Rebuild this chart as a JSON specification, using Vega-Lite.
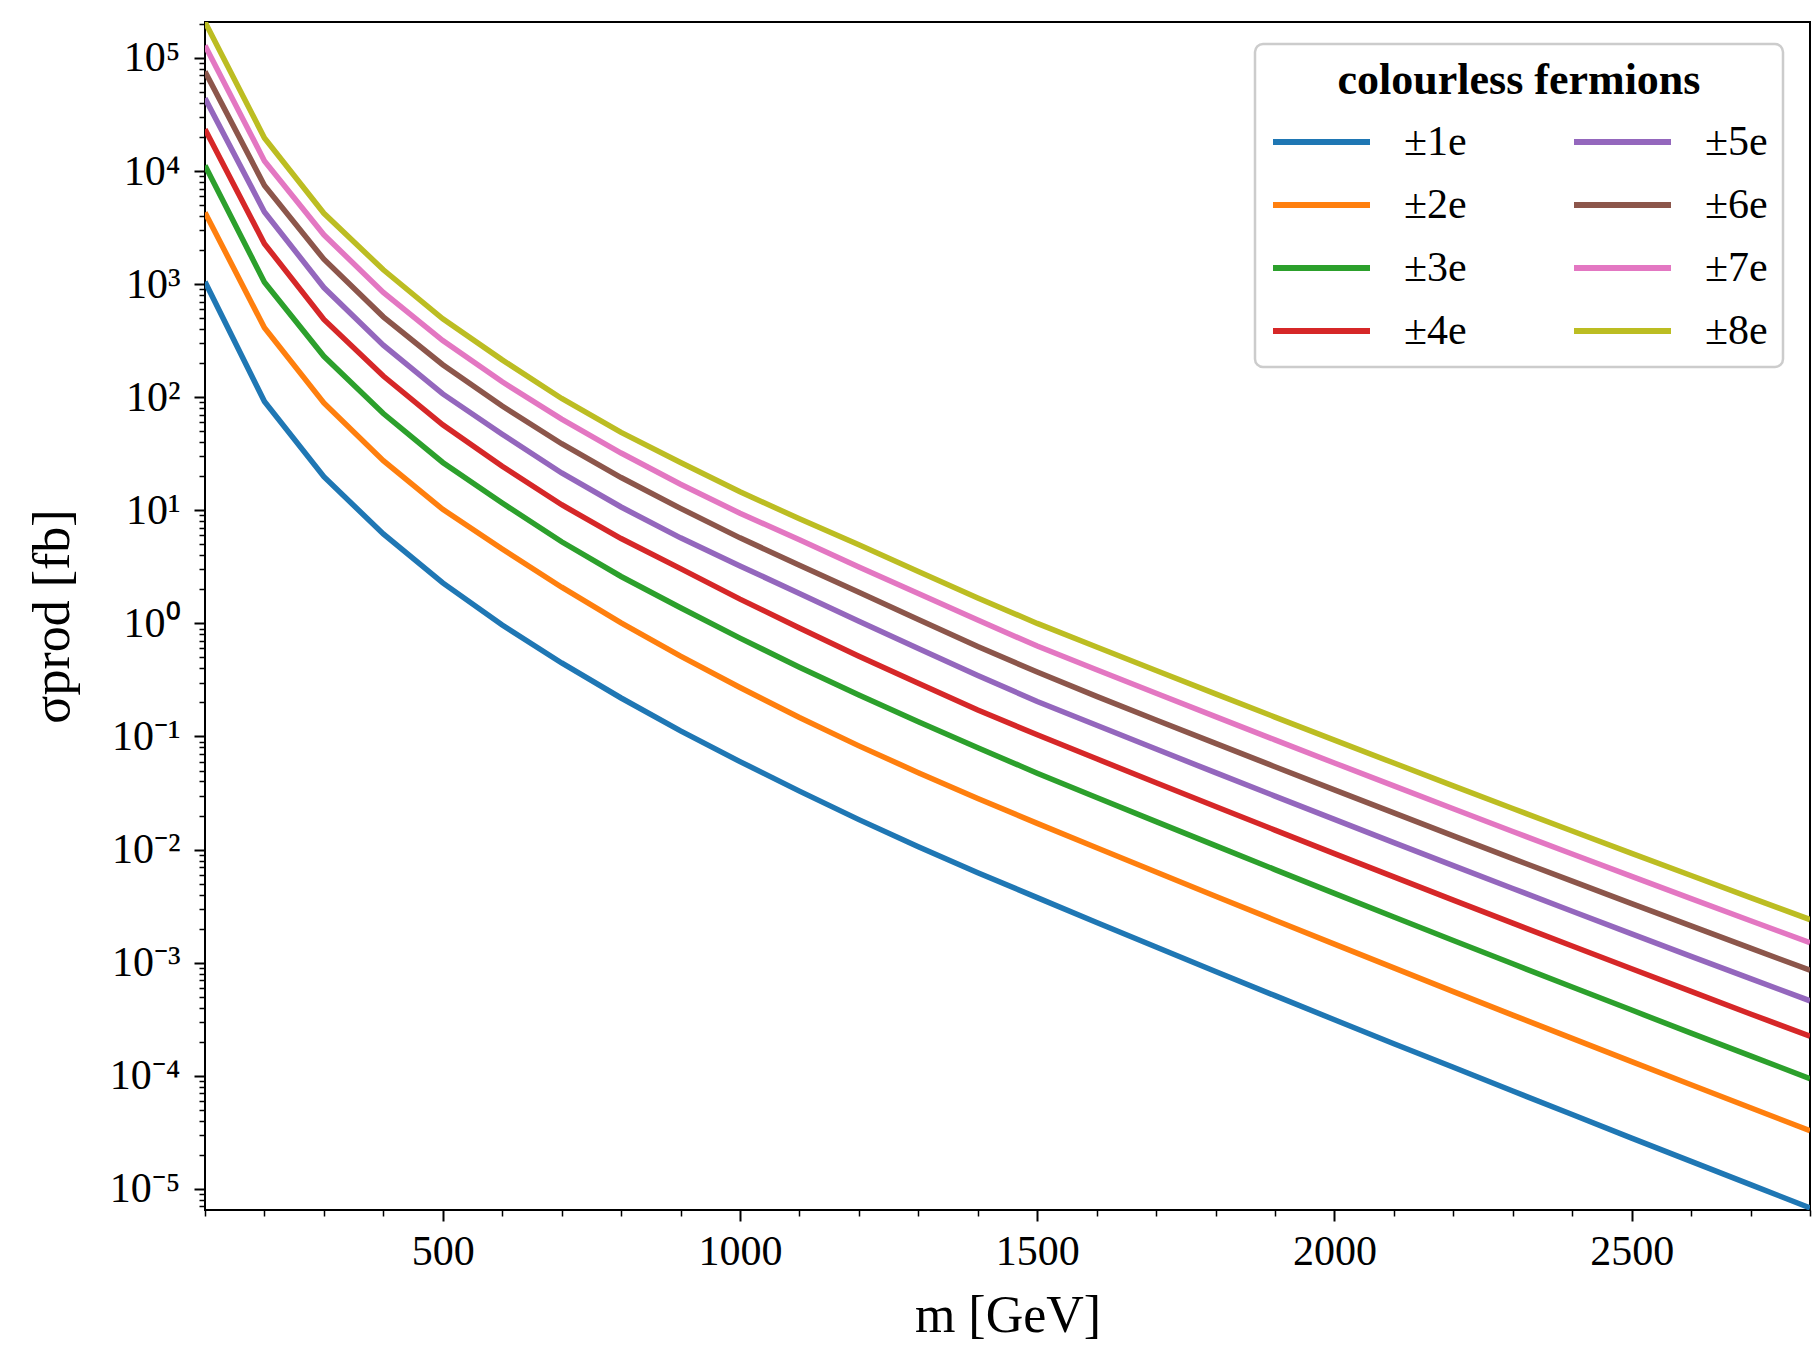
{
  "$schema": "https://vega.github.io/schema/vega-lite/v6.json",
  "width": 1605,
  "height": 1188,
  "autosize": {"type": "none"},
  "padding": {"left": 205, "top": 22, "right": 9, "bottom": 136},
  "background": "white",
  "config": {
    "view": {"stroke": "black", "strokeWidth": 2},
    "font": "Liberation Serif",
    "axis": {
      "domain": false, "grid": false, "tickColor": "black",
      "labelColor": "black", "titleColor": "black",
      "labelFont": "Liberation Serif", "titleFont": "Liberation Serif",
      "labelFontSize": 42, "titleFontSize": 52, "titleFontWeight": "normal"
    },
    "legend": {"strokeWidth": 2.5}
  },
  "data": {"values": [
    {"q":"±1e","m":100,"s":1050},{"q":"±1e","m":200,"s":91.6},{"q":"±1e","m":300,"s":19.8},{"q":"±1e","m":400,"s":6.18},{"q":"±1e","m":500,"s":2.28},{"q":"±1e","m":600,"s":0.968},{"q":"±1e","m":700,"s":0.447},{"q":"±1e","m":800,"s":0.219},{"q":"±1e","m":900,"s":0.112},{"q":"±1e","m":1000,"s":0.060},{"q":"±1e","m":1100,"s":0.0329},{"q":"±1e","m":1200,"s":0.0184},{"q":"±1e","m":1300,"s":0.0106},{"q":"±1e","m":1400,"s":0.00624},{"q":"±1e","m":1500,"s":0.00376},{"q":"±1e","m":1600,"s":0.002265},{"q":"±1e","m":1700,"s":0.001374},{"q":"±1e","m":1800,"s":0.000836},{"q":"±1e","m":1900,"s":0.000511},{"q":"±1e","m":2000,"s":0.000313},{"q":"±1e","m":2100,"s":0.000192},{"q":"±1e","m":2200,"s":0.000119},{"q":"±1e","m":2300,"s":7.33e-5},{"q":"±1e","m":2400,"s":4.54e-5},{"q":"±1e","m":2500,"s":2.81e-5},{"q":"±1e","m":2600,"s":1.75e-5},{"q":"±1e","m":2700,"s":1.09e-5},{"q":"±1e","m":2800,"s":6.79e-6},
    {"q":"±2e","m":100,"s":4300},{"q":"±2e","m":200,"s":411},{"q":"±2e","m":300,"s":88.9},{"q":"±2e","m":400,"s":27.5},{"q":"±2e","m":500,"s":10.2},{"q":"±2e","m":600,"s":4.55},{"q":"±2e","m":700,"s":2.09},{"q":"±2e","m":800,"s":1.01},{"q":"±2e","m":900,"s":0.513},{"q":"±2e","m":1000,"s":0.271},{"q":"±2e","m":1100,"s":0.147},{"q":"±2e","m":1200,"s":0.0826},{"q":"±2e","m":1300,"s":0.0479},{"q":"±2e","m":1400,"s":0.0283},{"q":"±2e","m":1500,"s":0.01706},{"q":"±2e","m":1600,"s":0.01038},{"q":"±2e","m":1700,"s":0.00633},{"q":"±2e","m":1800,"s":0.003868},{"q":"±2e","m":1900,"s":0.002371},{"q":"±2e","m":2000,"s":0.001458},{"q":"±2e","m":2100,"s":0.000899},{"q":"±2e","m":2200,"s":0.000555},{"q":"±2e","m":2300,"s":0.000344},{"q":"±2e","m":2400,"s":0.000214},{"q":"±2e","m":2500,"s":0.0001332},{"q":"±2e","m":2600,"s":8.32e-5},{"q":"±2e","m":2700,"s":5.21e-5},{"q":"±2e","m":2800,"s":3.27e-5},
    {"q":"±3e","m":100,"s":11200},{"q":"±3e","m":200,"s":1040},{"q":"±3e","m":300,"s":230},{"q":"±3e","m":400,"s":71.8},{"q":"±3e","m":500,"s":26.5},{"q":"±3e","m":600,"s":11.6},{"q":"±3e","m":700,"s":5.27},{"q":"±3e","m":800,"s":2.60},{"q":"±3e","m":900,"s":1.374},{"q":"±3e","m":1000,"s":0.741},{"q":"±3e","m":1100,"s":0.410},{"q":"±3e","m":1200,"s":0.2328},{"q":"±3e","m":1300,"s":0.1349},{"q":"±3e","m":1400,"s":0.0794},{"q":"±3e","m":1500,"s":0.0474},{"q":"±3e","m":1600,"s":0.0289},{"q":"±3e","m":1700,"s":0.01767},{"q":"±3e","m":1800,"s":0.01083},{"q":"±3e","m":1900,"s":0.006655},{"q":"±3e","m":2000,"s":0.0041},{"q":"±3e","m":2100,"s":0.002535},{"q":"±3e","m":2200,"s":0.001571},{"q":"±3e","m":2300,"s":0.000977},{"q":"±3e","m":2400,"s":0.000609},{"q":"±3e","m":2500,"s":0.000381},{"q":"±3e","m":2600,"s":0.000238},{"q":"±3e","m":2700,"s":0.00015},{"q":"±3e","m":2800,"s":9.44e-5},
    {"q":"±4e","m":100,"s":23400},{"q":"±4e","m":200,"s":2280},{"q":"±4e","m":300,"s":488},{"q":"±4e","m":400,"s":154},{"q":"±4e","m":500,"s":57},{"q":"±4e","m":600,"s":24.5},{"q":"±4e","m":700,"s":11.2},{"q":"±4e","m":800,"s":5.63},{"q":"±4e","m":900,"s":3.05},{"q":"±4e","m":1000,"s":1.64},{"q":"±4e","m":1100,"s":0.912},{"q":"±4e","m":1200,"s":0.513},{"q":"±4e","m":1300,"s":0.295},{"q":"±4e","m":1400,"s":0.1718},{"q":"±4e","m":1500,"s":0.1035},{"q":"±4e","m":1600,"s":0.0635},{"q":"±4e","m":1700,"s":0.039},{"q":"±4e","m":1800,"s":0.02405},{"q":"±4e","m":1900,"s":0.01487},{"q":"±4e","m":2000,"s":0.00922},{"q":"±4e","m":2100,"s":0.005735},{"q":"±4e","m":2200,"s":0.003577},{"q":"±4e","m":2300,"s":0.002237},{"q":"±4e","m":2400,"s":0.001404},{"q":"±4e","m":2500,"s":0.000883},{"q":"±4e","m":2600,"s":0.000557},{"q":"±4e","m":2700,"s":0.000352},{"q":"±4e","m":2800,"s":0.000224},
    {"q":"±5e","m":100,"s":44000},{"q":"±5e","m":200,"s":4350},{"q":"±5e","m":300,"s":933},{"q":"±5e","m":400,"s":289},{"q":"±5e","m":500,"s":107},{"q":"±5e","m":600,"s":47.1},{"q":"±5e","m":700,"s":21.4},{"q":"±5e","m":800,"s":10.7},{"q":"±5e","m":900,"s":5.71},{"q":"±5e","m":1000,"s":3.22},{"q":"±5e","m":1100,"s":1.84},{"q":"±5e","m":1200,"s":1.047},{"q":"±5e","m":1300,"s":0.6},{"q":"±5e","m":1400,"s":0.346},{"q":"±5e","m":1500,"s":0.2042},{"q":"±5e","m":1600,"s":0.1256},{"q":"±5e","m":1700,"s":0.07745},{"q":"±5e","m":1800,"s":0.0479},{"q":"±5e","m":1900,"s":0.02972},{"q":"±5e","m":2000,"s":0.01849},{"q":"±5e","m":2100,"s":0.01153},{"q":"±5e","m":2200,"s":0.00722},{"q":"±5e","m":2300,"s":0.004529},{"q":"±5e","m":2400,"s":0.002849},{"q":"±5e","m":2500,"s":0.001799},{"q":"±5e","m":2600,"s":0.001138},{"q":"±5e","m":2700,"s":0.000723},{"q":"±5e","m":2800,"s":0.00046},
    {"q":"±6e","m":100,"s":76000},{"q":"±6e","m":200,"s":7450},{"q":"±6e","m":300,"s":1660},{"q":"±6e","m":400,"s":514},{"q":"±6e","m":500,"s":194},{"q":"±6e","m":600,"s":83.6},{"q":"±6e","m":700,"s":38.8},{"q":"±6e","m":800,"s":19.5},{"q":"±6e","m":900,"s":10.4},{"q":"±6e","m":1000,"s":5.71},{"q":"±6e","m":1100,"s":3.27},{"q":"±6e","m":1200,"s":1.884},{"q":"±6e","m":1300,"s":1.084},{"q":"±6e","m":1400,"s":0.624},{"q":"±6e","m":1500,"s":0.3715},{"q":"±6e","m":1600,"s":0.2265},{"q":"±6e","m":1700,"s":0.1401},{"q":"±6e","m":1800,"s":0.0869},{"q":"±6e","m":1900,"s":0.054},{"q":"±6e","m":2000,"s":0.03372},{"q":"±6e","m":2100,"s":0.0211},{"q":"±6e","m":2200,"s":0.01323},{"q":"±6e","m":2300,"s":0.008329},{"q":"±6e","m":2400,"s":0.005256},{"q":"±6e","m":2500,"s":0.003327},{"q":"±6e","m":2600,"s":0.002112},{"q":"±6e","m":2700,"s":0.001344},{"q":"±6e","m":2800,"s":0.000858},
    {"q":"±7e","m":100,"s":129000},{"q":"±7e","m":200,"s":12300},{"q":"±7e","m":300,"s":2730},{"q":"±7e","m":400,"s":845},{"q":"±7e","m":500,"s":317},{"q":"±7e","m":600,"s":137},{"q":"±7e","m":700,"s":64},{"q":"±7e","m":800,"s":32.1},{"q":"±7e","m":900,"s":17.0},{"q":"±7e","m":1000,"s":9.42},{"q":"±7e","m":1100,"s":5.5},{"q":"±7e","m":1200,"s":3.16},{"q":"±7e","m":1300,"s":1.84},{"q":"±7e","m":1400,"s":1.07},{"q":"±7e","m":1500,"s":0.631},{"q":"±7e","m":1600,"s":0.3897},{"q":"±7e","m":1700,"s":0.2413},{"q":"±7e","m":1800,"s":0.1498},{"q":"±7e","m":1900,"s":0.09337},{"q":"±7e","m":2000,"s":0.05832},{"q":"±7e","m":2100,"s":0.03654},{"q":"±7e","m":2200,"s":0.02296},{"q":"±7e","m":2300,"s":0.01446},{"q":"±7e","m":2400,"s":0.009145},{"q":"±7e","m":2500,"s":0.005794},{"q":"±7e","m":2600,"s":0.003682},{"q":"±7e","m":2700,"s":0.002348},{"q":"±7e","m":2800,"s":0.0015},
    {"q":"±8e","m":100,"s":208000},{"q":"±8e","m":200,"s":19600},{"q":"±8e","m":300,"s":4230},{"q":"±8e","m":400,"s":1340},{"q":"±8e","m":500,"s":494},{"q":"±8e","m":600,"s":214},{"q":"±8e","m":700,"s":97.5},{"q":"±8e","m":800,"s":48.9},{"q":"±8e","m":900,"s":26.5},{"q":"±8e","m":1000,"s":14.6},{"q":"±8e","m":1100,"s":8.41},{"q":"±8e","m":1200,"s":4.95},{"q":"±8e","m":1300,"s":2.88},{"q":"±8e","m":1400,"s":1.68},{"q":"±8e","m":1500,"s":1.0},{"q":"±8e","m":1600,"s":0.618},{"q":"±8e","m":1700,"s":0.3832},{"q":"±8e","m":1800,"s":0.2382},{"q":"±8e","m":1900,"s":0.1485},{"q":"±8e","m":2000,"s":0.0929},{"q":"±8e","m":2100,"s":0.05823},{"q":"±8e","m":2200,"s":0.03662},{"q":"±8e","m":2300,"s":0.02309},{"q":"±8e","m":2400,"s":0.01461},{"q":"±8e","m":2500,"s":0.009268},{"q":"±8e","m":2600,"s":0.005897},{"q":"±8e","m":2700,"s":0.003762},{"q":"±8e","m":2800,"s":0.002406}
  ]},
  "mark": {"type": "line", "strokeWidth": 5.5, "clip": true},
  "encoding": {
    "x": {
      "field": "m", "type": "quantitative",
      "scale": {"domain": [100, 2800], "nice": false, "zero": false},
      "axis": {
        "title": "m [GeV]",
        "values": [100,200,300,400,500,600,700,800,900,1000,1100,1200,1300,1400,1500,1600,1700,1800,1900,2000,2100,2200,2300,2400,2500,2600,2700,2800],
        "format": "d",
        "labelExpr": "datum.value % 500 === 0 ? datum.label : ''",
        "tickSize": {"condition": {"test": "datum.value % 500 === 0", "value": 11}, "value": 6},
        "tickWidth": {"condition": {"test": "datum.value % 500 === 0", "value": 2}, "value": 1.5},
        "labelPadding": 10, "titlePadding": 18,
        "labelFlush": false, "labelOverlap": false, "labelBound": false
      }
    },
    "y": {
      "field": "s", "type": "quantitative",
      "scale": {"type": "log", "domain": [6.5e-6, 208000], "nice": false},
      "axis": {
        "title": "σprod [fb]",
        "values": [7e-6,8e-6,9e-6,1e-5,2e-5,3e-5,4e-5,5e-5,6e-5,7e-5,8e-5,9e-5,1e-4,2e-4,3e-4,4e-4,5e-4,6e-4,7e-4,8e-4,9e-4,0.001,0.002,0.003,0.004,0.005,0.006,0.007,0.008,0.009,0.01,0.02,0.03,0.04,0.05,0.06,0.07,0.08,0.09,0.1,0.2,0.3,0.4,0.5,0.6,0.7,0.8,0.9,1,2,3,4,5,6,7,8,9,10,20,30,40,50,60,70,80,90,100,200,300,400,500,600,700,800,900,1000,2000,3000,4000,5000,6000,7000,8000,9000,10000,20000,30000,40000,50000,60000,70000,80000,90000,100000,200000],
        "labelExpr": "abs(log(datum.value)/LN10 - round(log(datum.value)/LN10)) < 0.001 ? '10' + ['⁻⁵','⁻⁴','⁻³','⁻²','⁻¹','⁰','¹','²','³','⁴','⁵'][round(log(datum.value)/LN10) + 5] : ''",
        "tickSize": {"condition": {"test": "abs(log(datum.value)/LN10 - round(log(datum.value)/LN10)) < 0.001", "value": 11}, "value": 6},
        "tickWidth": {"condition": {"test": "abs(log(datum.value)/LN10 - round(log(datum.value)/LN10)) < 0.001", "value": 2}, "value": 1.5},
        "labelPadding": 14, "titlePadding": 30,
        "labelBaseline": "middle",
        "labelFlush": false, "labelOverlap": false, "labelBound": false
      }
    },
    "color": {
      "field": "q", "type": "nominal",
      "scale": {
        "domain": ["±1e","±2e","±3e","±4e","±5e","±6e","±7e","±8e"],
        "range": ["#1f77b4","#ff7f0e","#2ca02c","#d62728","#9467bd","#8c564b","#e377c2","#bcbd22"]
      },
      "legend": {
        "title": "colourless fermions",
        "orient": "none", "legendX": 1050, "legendY": 22,
        "columns": 2,
        "symbolType": "stroke", "symbolStrokeWidth": 6, "symbolSize": 9409,
        "clipHeight": 42,
        "labelOffset": 31, "columnPadding": 104, "rowPadding": 21, "padding": 15,
        "labelFont": "Liberation Serif", "labelFontSize": 42, "labelColor": "black", "labelLimit": 300,
        "titleFont": "Liberation Serif", "titleFontSize": 44, "titleFontWeight": "bold", "titleColor": "black",
        "titleAnchor": "middle", "titleAlign": "center", "titlePadding": 18, "titleLimit": 800,
        "fillColor": "white", "strokeColor": "#cccccc", "cornerRadius": 8,
        "symbolOpacity": 1
      }
    }
  }
}
